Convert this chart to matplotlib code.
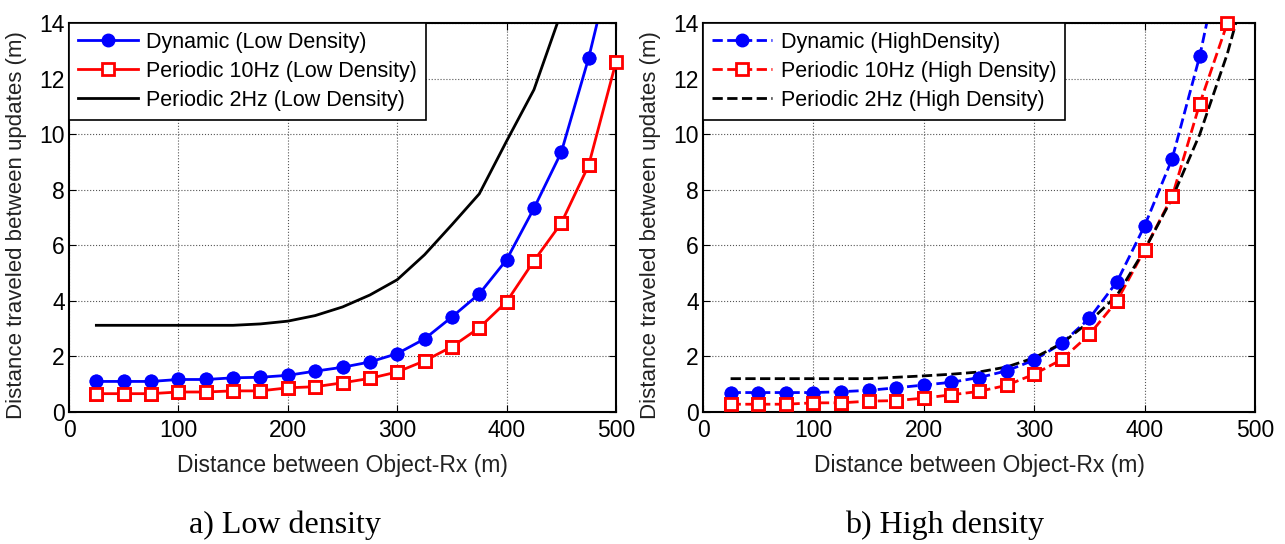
import matplotlib.pyplot as plt
import numpy as np

# Distancias (m)
x = [25, 50, 75, 100, 125, 150, 175, 200, 225, 250, 275, 300, 325, 350,
     375, 400, 425, 450, 475, 500]

# a) Baja densidad
dyn_low = [1.1, 1.1, 1.1, 1.17, 1.17, 1.23, 1.25, 1.32, 1.47, 1.61, 1.8, 2.1,
           2.63, 3.42, 4.25, 5.48, 7.33, 9.35, 12.74, 16.8]
p10_low = [0.66, 0.66, 0.66, 0.72, 0.72, 0.76, 0.76, 0.87, 0.91, 1.05, 1.21,
           1.44, 1.84, 2.35, 3.03, 3.97, 5.44, 6.8, 8.88, 12.6]
p2_low = [3.12, 3.12, 3.12, 3.12, 3.12, 3.12, 3.17, 3.27, 3.47, 3.78, 4.21,
          4.76, 5.66, 6.74, 7.85, 9.75, 11.6, 14.4, 18.0, 22.0]

# b) Alta densidad
dyn_high = [0.7, 0.7, 0.7, 0.7, 0.73, 0.78, 0.87, 0.97, 1.07, 1.24, 1.48,
            1.87, 2.47, 3.37, 4.69, 6.7, 9.12, 12.82, 17.5, 23.0]
p10_high = [0.28, 0.28, 0.28, 0.33, 0.33, 0.39, 0.41, 0.5, 0.62, 0.74, 0.96,
            1.36, 1.89, 2.79, 4.0, 5.84, 7.76, 11.1, 14.0, 18.5]
p2_high = [1.2, 1.2, 1.2, 1.2, 1.2, 1.2, 1.25, 1.3, 1.36, 1.44, 1.62, 1.95,
           2.47, 3.25, 4.2, 5.84, 7.7, 10.0, 12.9, 16.5]

plt.rcParams['font.family'] = ['Liberation Sans', 'DejaVu Sans']

fig = plt.figure(figsize=(12.85, 5.44), dpi=100)
ax1 = fig.add_axes([69 / 1285, 1 - 412 / 544, 547 / 1285, 389 / 544])
ax2 = fig.add_axes([703 / 1285, 1 - 412 / 544, 552 / 1285, 389 / 544])


def estilo(ax):
    ax.set_xlim(0, 500)
    ax.set_ylim(0, 14)
    ax.set_xticks([0, 100, 200, 300, 400, 500])
    ax.set_yticks([0, 2, 4, 6, 8, 10, 12, 14])
    ax.grid(True, linestyle=':', color='#555555', linewidth=0.8)
    ax.tick_params(direction='in', top=True, right=True, labelsize=16.5,
                   length=5)
    ax.tick_params(axis='x', pad=5)
    ax.tick_params(axis='y', pad=3)
    for s in ax.spines.values():
        s.set_linewidth(1.5)
    ax.set_xlabel('Distance between Object-Rx (m)', fontsize=16.5,
                  color='#222222', labelpad=9)
    ax.set_ylabel('Distance traveled between updates (m)', fontsize=16,
                  color='#222222')
    ax.yaxis.set_label_coords(-0.076, 0.48)


def serie(ax, ys, fmt, label, **kw):
    # linea recortada + marcadores visibles en el borde (como MATLAB)
    ax.plot(x, ys, fmt, label=label, **kw)
    if 'ms' in kw:
        xs = [a for a, b in zip(x, ys) if b <= 14.05]
        yv = [b for b in ys if b <= 14.05]
        ax.plot(xs, yv, fmt, linestyle='none', clip_on=False, zorder=3, **kw)


# Panel a
serie(ax1, dyn_low, '-o', 'Dynamic (Low Density)', color='blue', lw=2, ms=9)
serie(ax1, p10_low, '-s', 'Periodic 10Hz (Low Density)', color='red', lw=2,
      ms=8, mfc='white', mew=2)
serie(ax1, p2_low, '-', 'Periodic 2Hz (Low Density)', color='black', lw=2)
estilo(ax1)

# Panel b
serie(ax2, dyn_high, '--o', 'Dynamic (HighDensity)', color='blue', lw=2, ms=9)
serie(ax2, p10_high, '--s', 'Periodic 10Hz (High Density)', color='red', lw=2,
      ms=8, mfc='white', mew=2)
serie(ax2, p2_high, '--', 'Periodic 2Hz (High Density)', color='black', lw=2)
estilo(ax2)

for ax in (ax1, ax2):
    leg = ax.legend(loc='upper left', fontsize=15.5, fancybox=False,
                    framealpha=1, borderaxespad=0, handlelength=2.8,
                    labelspacing=0.38, borderpad=0.4, handletextpad=0.4)
    leg.get_frame().set_edgecolor('black')
    leg.get_frame().set_linewidth(1.2)
    leg.set_zorder(5)

fig.text(285 / 1285, 1 - 525 / 544, 'a) Low density', ha='center',
         va='center', fontsize=23, family='Liberation Serif')
fig.text(945 / 1285, 1 - 525 / 544, 'b) High density', ha='center',
         va='center', fontsize=23, family='Liberation Serif')

fig.savefig('out.png', dpi=100)
